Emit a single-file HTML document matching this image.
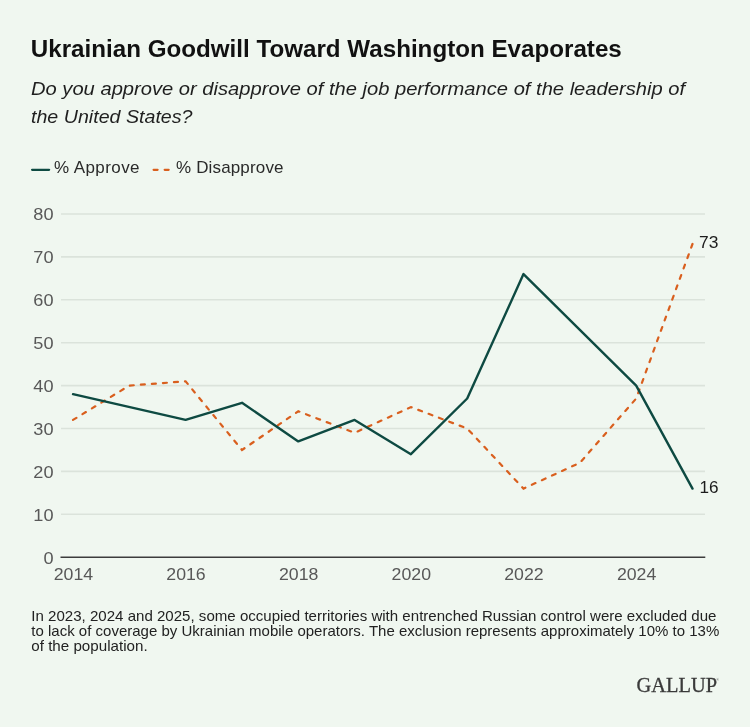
<!DOCTYPE html>
<html><head><meta charset="utf-8">
<style>
html,body{margin:0;padding:0;}
body{width:750px;height:727px;background:#f0f7f0;overflow:hidden;}
svg{display:block;will-change:transform;}
svg text{font-family:"Liberation Sans",sans-serif;}
</style></head><body>
<svg width="750" height="727" viewBox="0 0 750 727">
<rect width="750" height="727" fill="#f0f7f0"/>
<text id="title" x="30.8" y="56.6" font-size="23" font-weight="bold" fill="#111" textLength="591" lengthAdjust="spacingAndGlyphs">Ukrainian Goodwill Toward Washington Evaporates</text>
<text id="sub1" x="31" y="94.7" font-size="19" font-style="italic" fill="#1f1f1f" textLength="654" lengthAdjust="spacingAndGlyphs">Do you approve or disapprove of the job performance of the leadership of</text>
<text id="sub2" x="31" y="123.1" font-size="19" font-style="italic" fill="#1f1f1f" textLength="161.5" lengthAdjust="spacingAndGlyphs">the United States?</text>
<line x1="32.1" y1="169.8" x2="49.1" y2="169.8" stroke="#0e4a42" stroke-width="2.3" stroke-linecap="round"/>
<line x1="153.6" y1="169.8" x2="169.5" y2="169.8" stroke="#d95f1e" stroke-width="2.2" stroke-linecap="round" stroke-dasharray="4,7.07"/>
<text id="leg1" x="54" y="173.3" font-size="17" fill="#2a2a2a" textLength="85.5" lengthAdjust="spacing">% Approve</text>
<text id="leg2" x="176" y="173.3" font-size="17" fill="#2a2a2a" textLength="107.5" lengthAdjust="spacing">% Disapprove</text>
<g stroke="#dbe3db" stroke-width="1.6"><line x1="61" x2="705" y1="514.3" y2="514.3"/><line x1="61" x2="705" y1="471.4" y2="471.4"/><line x1="61" x2="705" y1="428.5" y2="428.5"/><line x1="61" x2="705" y1="385.6" y2="385.6"/><line x1="61" x2="705" y1="342.7" y2="342.7"/><line x1="61" x2="705" y1="299.8" y2="299.8"/><line x1="61" x2="705" y1="256.9" y2="256.9"/><line x1="61" x2="705" y1="214.0" y2="214.0"/></g>
<line x1="60.5" x2="705.3" y1="557.2" y2="557.2" stroke="#3c3c3c" stroke-width="1.6"/>
<g font-size="17" fill="#585858"><text x="43.4" y="563.6" textLength="10.1" lengthAdjust="spacingAndGlyphs">0</text><text x="33.3" y="520.7" textLength="20.2" lengthAdjust="spacingAndGlyphs">10</text><text x="33.3" y="477.8" textLength="20.2" lengthAdjust="spacingAndGlyphs">20</text><text x="33.3" y="434.9" textLength="20.2" lengthAdjust="spacingAndGlyphs">30</text><text x="33.3" y="392.0" textLength="20.2" lengthAdjust="spacingAndGlyphs">40</text><text x="33.3" y="349.1" textLength="20.2" lengthAdjust="spacingAndGlyphs">50</text><text x="33.3" y="306.2" textLength="20.2" lengthAdjust="spacingAndGlyphs">60</text><text x="33.3" y="263.3" textLength="20.2" lengthAdjust="spacingAndGlyphs">70</text><text x="33.3" y="220.4" textLength="20.2" lengthAdjust="spacingAndGlyphs">80</text></g>
<g font-size="17" fill="#585858"><text x="53.7" y="580.3" textLength="39.4" lengthAdjust="spacingAndGlyphs">2014</text><text x="166.3" y="580.3" textLength="39.4" lengthAdjust="spacingAndGlyphs">2016</text><text x="279.0" y="580.3" textLength="39.4" lengthAdjust="spacingAndGlyphs">2018</text><text x="391.6" y="580.3" textLength="39.4" lengthAdjust="spacingAndGlyphs">2020</text><text x="504.2" y="580.3" textLength="39.4" lengthAdjust="spacingAndGlyphs">2022</text><text x="616.9" y="580.3" textLength="39.4" lengthAdjust="spacingAndGlyphs">2024</text></g>
<polyline id="dis" fill="none" stroke="#d95f1e" stroke-width="2.2" stroke-linecap="round" stroke-dasharray="4,7.07" points="73.0,419.9 129.3,385.6 185.6,381.3 242.0,450.0 298.3,411.3 354.6,432.8 410.9,407.1 467.2,428.5 523.5,488.6 579.9,462.8 636.2,398.5 692.5,244.0"/>
<polyline id="app" fill="none" stroke="#0e4a42" stroke-width="2.4" stroke-linejoin="round" stroke-linecap="round" points="73.0,394.2 185.6,419.9 242.0,402.8 298.3,441.4 354.6,419.9 410.9,454.2 467.2,398.5 523.5,274.1 636.2,385.6 692.5,488.6"/>
<g font-size="17" fill="#1c1c1c"><text x="699.1" y="248.2" textLength="19.4" lengthAdjust="spacingAndGlyphs">73</text><text x="699.4" y="493.3" textLength="19.1" lengthAdjust="spacingAndGlyphs">16</text></g>
<g font-size="14.3" fill="#222">
<text id="f1" x="31.3" y="621.1" textLength="685.2" lengthAdjust="spacingAndGlyphs">In 2023, 2024 and 2025, some occupied territories with entrenched Russian control were excluded due</text>
<text id="f2" x="31.3" y="636.2" textLength="688" lengthAdjust="spacingAndGlyphs">to lack of coverage by Ukrainian mobile operators. The exclusion represents approximately 10% to 13%</text>
<text id="f3" x="31.3" y="651.1" textLength="116.3" lengthAdjust="spacingAndGlyphs">of the population.</text>
</g>
<text id="gallup" x="636.6" y="692.3" font-size="20.5" fill="#3a3a3a" stroke="#3a3a3a" stroke-width="0.3" style="font-family:'Liberation Serif',serif" textLength="80.4" lengthAdjust="spacingAndGlyphs">GALLUP</text>
<text x="716.2" y="680.6" font-size="3.6" fill="#555" style="font-family:'Liberation Serif',serif">®</text>
</svg>
</body></html>
